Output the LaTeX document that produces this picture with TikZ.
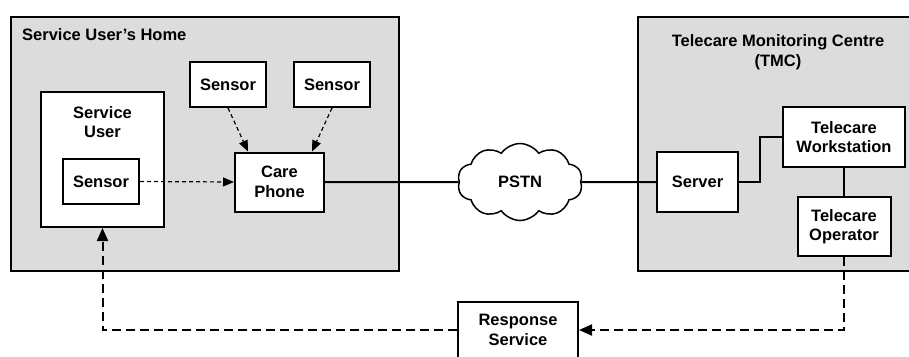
\documentclass[tikz,border=0pt]{standalone}
\usepackage{fontspec}
\setmainfont{Liberation Sans}
\usetikzlibrary{shapes.symbols,arrows.meta,calc}
\definecolor{areagray}{RGB}{220,220,220}
\begin{document}
\begin{tikzpicture}[x=1pt,y=-1pt,
  lbl/.style={font=\fontsize{16.5}{19.5}\selectfont\bfseries, align=center, inner sep=0pt},
  area/.style={draw=black, line width=2pt, fill=areagray, inner sep=0pt},
  box/.style={lbl, draw=black, line width=2pt, fill=white},
  link/.style={line width=2pt},
  sig/.style={line width=1.2pt, dash pattern=on 4pt off 3pt, -{Triangle[length=11pt,width=9pt]}},
  resp/.style={line width=2pt, dash pattern=on 9pt off 5pt},
  resparrow/.style={resp, -{Triangle[length=13pt,width=11pt]}}
]
\useasboundingbox (0,0) rectangle (909,356);
% areas
\node[area, minimum width=388pt, minimum height=254pt] (home) at (205,144) {};
\node[area, minimum width=272pt, minimum height=254pt] (tmc) at (774,144) {};
\node[lbl, anchor=base west] (hometitle) at (22,40.7) {Service User’s Home};
\node[lbl] (tmctitle) at (778,52) {Telecare Monitoring Centre\\(TMC)};
% home contents
\node[box, minimum width=76pt, minimum height=45pt] (sensA) at (228,84.5) {Sensor};
\node[box, minimum width=76pt, minimum height=45pt] (sensB) at (332,84.5) {Sensor};
\node[box, minimum width=123pt, minimum height=135pt] (suser) at (102.5,159.5) {};
\node[lbl] (suserlbl) at (102.5,122) {Service\\User};
\node[box, minimum width=76pt, minimum height=45pt] (sensC) at (101,181.5) {Sensor};
\node[box, minimum width=89pt, minimum height=59pt] (phone) at (279.5,182) {Care\\Phone};
% network
\node[lbl, draw=black, line width=1.5pt, fill=white, cloud, cloud puffs=10, cloud puff arc=110, aspect=1.6, minimum width=125pt, minimum height=77pt] (pstn) at (520,182) {PSTN};
% tmc contents
\node[box, minimum width=81pt, minimum height=60pt] (server) at (697.5,182) {Server};
\node[box, minimum width=122pt, minimum height=60pt] (work) at (844,137) {Telecare\\Workstation};
\node[box, minimum width=93pt, minimum height=59pt] (oper) at (844,226.5) {Telecare\\Operator};
\node[box, minimum width=120pt, minimum height=56pt] (response) at (518,330) {Response\\Service};
% connectors
\draw[sig] (sensA.south) -- ([xshift=-31.5pt]phone.north);
\draw[sig] (sensB.south) -- ([xshift=32.5pt]phone.north);
\draw[sig] (sensC.east) -- (phone.west);
\draw[link] (phone.east) -- (pstn.west);
\draw[link] (pstn.east) -- (server.west);
\draw[link] (server.east) -- ++(21,0) |- (work.west);
\draw[link] (work.south) -- (oper.north);
\coordinate (rc) at (844,330);
\coordinate (lc) at (102.5,330);
\draw[resparrow] (oper.south) -- (rc) -- (response.east);
\draw[resparrow] (response.west) -- (lc) -- (suser.south);
\end{tikzpicture}
\end{document}
